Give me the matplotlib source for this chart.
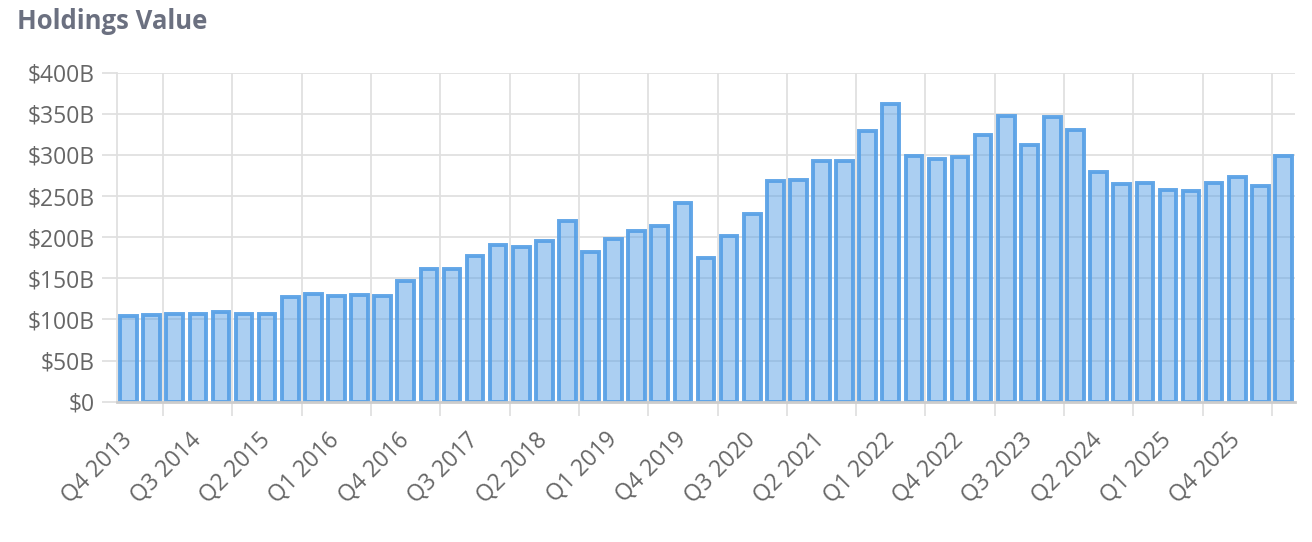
import matplotlib
matplotlib.use("Agg")
import matplotlib.pyplot as plt
import numpy as np

plt.rcParams['font.family'] = ['Open Sans', 'DejaVu Sans']

# Trimestres (Q4 2013 em diante), um rótulo a cada 3
quarters = []
year, q = 2013, 4
for _ in range(51):
    quarters.append(f"Q{q} {year}")
    q += 1
    if q > 4:
        q = 1
        year += 1

# Valor das posições em bilhões de dólares
values = [104, 105, 107, 107, 108.7, 106.6, 106.6, 127, 131.3, 128.1,
          129.3, 128.5, 147.1, 161.3, 161.3, 176.8, 190.1, 187.7, 195, 220.1,
          182, 198.2, 207.5, 213.6, 241.2, 175.1, 201.5, 227.8, 268.7, 269.5,
          292.3, 292.3, 329.5, 362, 298.7, 294.7, 297.5, 323.9, 347, 312.1,
          346.1, 330.7, 278.9, 265, 265.9, 257.8, 256.6, 265.9, 273.2, 262.2,
          298.3]

y_ticks = [0, 50, 100, 150, 200, 250, 300, 350, 400]

grid_color = '#e0e0e0'
text_color = '#666666'

fig = plt.figure(figsize=(13.12, 5.42), dpi=100)
ax = fig.add_axes([117 / 1312, 1 - 401.7 / 542, (1295 - 117) / 1312, (401.7 - 72.7) / 542])

x = np.arange(len(values))
ax.bar(x, values, width=0.72, color=(0.35, 0.63, 0.90, 0.5),
       edgecolor=(0.35, 0.63, 0.90, 0.95), linewidth=2.8, zorder=3)

ax.set_xlim(-0.5, len(values) - 0.5)
ax.set_ylim(0, 400)

# eixo y
ax.set_yticks(y_ticks)
ax.set_yticklabels(['$0' if v == 0 else f'${v}B' for v in y_ticks])
ax.yaxis.grid(True, color=grid_color, linewidth=1.3, zorder=0)
ax.tick_params(axis='y', length=11, width=1.3, color=grid_color, pad=5,
               labelsize=16.5, labelcolor=text_color)

# eixo x: rótulos nos centros, linhas de grade entre os rótulos
label_pos = x[::3]
ax.set_xticks(label_pos)
ax.set_xticklabels([quarters[i] for i in label_pos], rotation=45, ha='right',
                   va='center', rotation_mode='anchor')
ax.tick_params(axis='x', which='major', length=0, pad=25,
               labelsize=16.5, labelcolor=text_color)
grid_pos = label_pos + 1.5
ax.set_xticks(grid_pos, minor=True)
ax.xaxis.grid(True, which='minor', color=grid_color, linewidth=1.3, zorder=0)
ax.tick_params(axis='x', which='minor', length=10, width=1.3, color=grid_color)

for side in ['top', 'right']:
    ax.spines[side].set_visible(False)
ax.spines['left'].set_color(grid_color)
ax.spines['left'].set_linewidth(1.3)
ax.spines['bottom'].set_color('#cccccc')
ax.spines['bottom'].set_linewidth(2)
ax.spines['bottom'].set_zorder(4)

fig.text(17 / 1312, 1 - 8 / 542, 'Holdings Value', ha='left', va='top',
         fontsize=18.5, fontweight='bold', color='#6b7080')

fig.savefig('out.png', dpi=100)
